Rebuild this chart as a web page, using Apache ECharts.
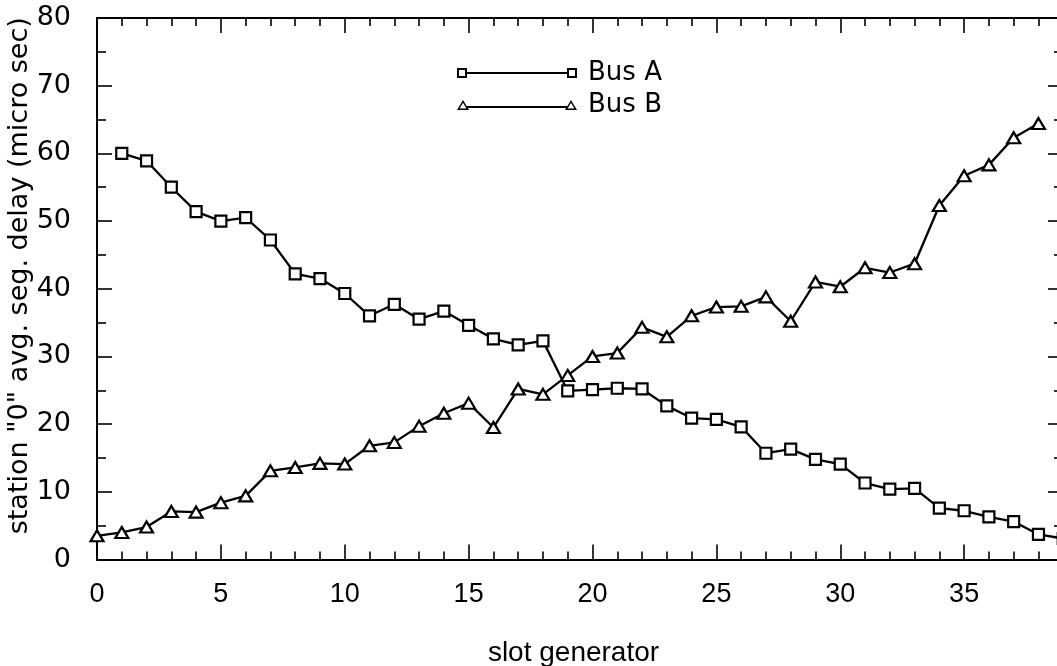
<!DOCTYPE html>
<html>
<head>
<meta charset="utf-8">
<script src="https://cdn.jsdelivr.net/npm/echarts@6/dist/echarts.min.js"></script>
<style>html,body{margin:0;padding:0;background:#fff}#c{width:1057px;height:666px}</style>
</head>
<body>
<div id="c"></div>
<script>
// slot generator positions
const slotsA = [1,2,3,4,5,6,7,8,9,10,11,12,13,14,15,16,17,18,19,20,21,22,23,24,25,26,27,28,29,30,31,32,33,34,35,36,37,38,39];
const busA   = [60.0,58.9,55.0,51.4,50.0,50.5,47.2,42.2,41.5,39.3,36.0,37.7,35.5,36.7,34.6,32.6,31.7,32.3,24.9,25.1,25.3,25.2,22.7,20.9,20.7,19.6,15.7,16.3,14.8,14.1,11.3,10.4,10.5,7.6,7.2,6.3,5.6,3.7,3.1];
const slotsB = [0,1,2,3,4,5,6,7,8,9,10,11,12,13,14,15,16,17,18,19,20,21,22,23,24,25,26,27,28,29,30,31,32,33,34,35,36,37,38];
const busB   = [3.5,4.0,4.8,7.1,7.0,8.4,9.4,13.1,13.6,14.2,14.1,16.8,17.3,19.7,21.6,23.1,19.5,25.2,24.4,27.2,30.0,30.5,34.3,32.9,36.0,37.3,37.4,38.8,35.2,41.0,40.3,43.1,42.4,43.7,52.3,56.7,58.3,62.3,64.4];
const seriesNames = ['Bus A', 'Bus B'];
const xTitle = 'slot generator';
const yTitle = 'station "0" avg. seg. delay (micro sec)';

const pairs = (xs, ys) => xs.map((x, i) => [x, ys[i]]);

const squareIcon = 'path://M0 0H10V10H0Z M2 2V8H8V2Z M10 4H110V6H10Z M110 0H120V10H110Z M112 2V8H118V2Z';
const triIcon = 'path://M0 10L6 0L12 10Z M2.6 8.6H9.4L6 2.8Z M10 6H110V8H10Z M108 10L114 0L120 10Z M110.6 8.6H117.4L114 2.8Z';

const FONT_W = '"DejaVu Sans", Verdana, sans-serif';
const FONT_N = '"Liberation Sans", Arial, sans-serif';
const tickStyle = {color: '#000', width: 1.6};
const lineAxis = {show: true, onZero: false, lineStyle: {color: '#000', width: 2}};

const chart = echarts.init(document.getElementById('c'), null, {renderer: 'canvas'});
chart.setOption({
  animation: false,
  backgroundColor: '#fff',
  grid: [
    {left: 97, right: -31, top: 18, bottom: 106.5, containLabel: false, outerBoundsMode: 'none'},
    {left: 97, right: -6, top: 18, bottom: 106.5, containLabel: false, outerBoundsMode: 'none'}
  ],
  legend: {
    orient: 'vertical', left: 457, top: 60, padding: 0,
    itemWidth: 120, itemHeight: 10, itemGap: 6,
    textStyle: {fontFamily: FONT_W, fontSize: 26, color: '#000', padding: [0, 0, 0, 6]},
    itemStyle: {color: '#000', borderWidth: 0},
    selectedMode: false,
    data: [{name: seriesNames[0], icon: squareIcon}, {name: seriesNames[1], icon: triIcon}]
  },
  xAxis: [
    {
      type: 'value', gridIndex: 0, position: 'bottom', min: 0, max: 40, interval: 5,
      name: xTitle, nameLocation: 'middle', nameGap: 80, nameMoveOverlap: false,
      nameTextStyle: {fontFamily: FONT_N, fontSize: 28, color: '#000', padding: [0, 38, 0, 0]},
      axisLine: lineAxis,
      axisTick: {show: true, inside: true, length: 15, lineStyle: tickStyle},
      minorTick: {show: true, splitNumber: 5, length: 8, lineStyle: tickStyle},
      splitLine: {show: false}, minorSplitLine: {show: false},
      axisLabel: {margin: 22, fontFamily: FONT_N, fontSize: 27, color: '#000',
        formatter: v => (v <= 35 ? String(v) : '')}
    },
    {
      type: 'value', gridIndex: 0, position: 'top', min: 0, max: 40, interval: 5,
      axisLine: lineAxis,
      axisTick: {show: true, inside: true, length: 15, lineStyle: tickStyle},
      minorTick: {show: true, splitNumber: 5, length: 8, lineStyle: tickStyle},
      splitLine: {show: false}, minorSplitLine: {show: false},
      axisLabel: {show: false}
    },
    {type: 'value', gridIndex: 1, min: 0, max: 1, show: false}
  ],
  yAxis: [
    {
      type: 'value', gridIndex: 0, position: 'left', min: 0, max: 80, interval: 10,
      name: yTitle, nameLocation: 'middle', nameGap: 64, nameMoveOverlap: false,
      nameTextStyle: {fontFamily: FONT_W, fontSize: 27, color: '#000', padding: [0, 0, 0, 26]},
      axisLine: lineAxis,
      axisTick: {show: true, inside: true, length: 15, lineStyle: tickStyle},
      minorTick: {show: true, splitNumber: 2, length: 9, lineStyle: tickStyle},
      splitLine: {show: false}, minorSplitLine: {show: false},
      axisLabel: {margin: 26, fontFamily: FONT_W, fontSize: 27, color: '#000'}
    },
    {
      type: 'value', gridIndex: 1, position: 'right', min: 0, max: 80, interval: 10,
      axisLine: lineAxis,
      axisTick: {show: true, inside: true, length: 15, lineStyle: tickStyle},
      minorTick: {show: true, splitNumber: 2, length: 9, lineStyle: tickStyle},
      splitLine: {show: false}, minorSplitLine: {show: false},
      axisLabel: {show: false}
    }
  ],
  series: [
    {
      name: seriesNames[0], type: 'line', xAxisIndex: 0, yAxisIndex: 0,
      data: pairs(slotsA, busA),
      symbol: 'rect', symbolSize: 11, showAllSymbol: true,
      lineStyle: {color: '#000', width: 2.3},
      itemStyle: {color: '#fff', borderColor: '#000', borderWidth: 2.2},
      emphasis: {disabled: true}, clip: false
    },
    {
      name: seriesNames[1], type: 'line', xAxisIndex: 0, yAxisIndex: 0,
      data: pairs(slotsB, busB),
      symbol: 'triangle', symbolSize: [13, 11], showAllSymbol: true,
      lineStyle: {color: '#000', width: 2.3},
      itemStyle: {color: '#fff', borderColor: '#000', borderWidth: 2.2},
      emphasis: {disabled: true}, clip: false
    }
  ]
});
</script>
</body>
</html>
